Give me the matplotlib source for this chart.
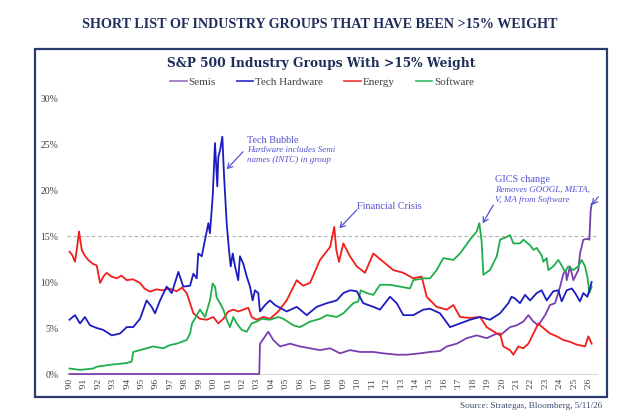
import matplotlib
matplotlib.use("Agg")
import matplotlib.pyplot as plt
from matplotlib.patches import Rectangle
from matplotlib.lines import Line2D

# ---------------- data ----------------
energy_x = [1990.0, 1990.2, 1990.38, 1990.55, 1990.66, 1990.85, 1991.05, 1991.30, 1991.6, 1991.89,
            1992.12, 1992.35, 1992.58, 1992.9, 1993.27, 1993.6, 1993.97, 1994.4, 1994.89, 1995.2,
            1995.58, 1996.0, 1996.48, 1996.9, 1997.43, 1997.8, 1998.13, 1998.36, 1998.59, 1999.05,
            1999.51, 1999.97, 2000.32, 2000.67, 2001.01, 2001.36, 2001.7, 2002.05, 2002.40, 2002.63,
            2002.98, 2003.44, 2003.90, 2004.48, 2005.06, 2005.76, 2006.2, 2006.68, 2007.37, 2008.07,
            2008.36, 2008.5, 2008.69, 2008.99, 2009.45, 2009.92, 2010.49, 2011.07, 2011.76, 2012.45,
            2013.15, 2013.84, 2014.42, 2014.77, 2015.46, 2016.16, 2016.62, 2017.08, 2017.77, 2018.47,
            2018.93, 2019.63, 2019.86, 2020.08, 2020.55, 2020.78, 2021.12, 2021.47, 2021.82, 2022.17,
            2022.51, 2022.86, 2023.32, 2023.79, 2024.25, 2024.71, 2025.17, 2025.75, 2025.98, 2026.21]
energy_y = [13.3, 12.9, 12.2, 14.0, 15.5, 13.5, 12.9, 12.4, 12.0, 11.8,
            9.9, 10.6, 11.0, 10.6, 10.4, 10.7, 10.2, 10.3, 9.9, 9.3,
            8.95, 9.2, 9.1, 9.3, 9.0, 9.4, 8.8, 7.7, 6.6, 6.0,
            5.9, 6.2, 5.5, 6.0, 6.8, 7.0, 6.8, 7.0, 7.2, 6.2,
            5.9, 6.2, 6.0, 6.8, 8.0, 10.2, 9.6, 9.9, 12.4, 13.8,
            16.0, 13.5, 12.2, 14.2, 12.8, 11.7, 11.0, 13.1, 12.2, 11.3,
            11.0, 10.4, 10.6, 8.4, 7.3, 7.0, 7.5, 6.2, 6.1, 6.2,
            5.1, 4.4, 4.4, 3.0, 2.6, 2.1, 3.0, 2.8, 3.3, 4.4,
            5.5, 5.0, 4.4, 4.1, 3.7, 3.5, 3.2, 3.0, 4.1, 3.3]

hw_x = [1990.0, 1990.38, 1990.73, 1991.07, 1991.42, 1991.89, 1992.34, 1992.93, 1993.50, 1993.97,
        1994.42, 1994.89, 1995.35, 1995.70, 1995.93, 1996.28, 1996.74, 1997.09, 1997.55, 1997.89,
        1998.36, 1998.59, 1998.82, 1998.93, 1999.17, 1999.40, 1999.63, 1999.74, 1999.93, 2000.09,
        2000.25, 2000.32, 2000.44, 2000.60, 2000.71, 2000.90, 2001.06, 2001.18, 2001.32, 2001.48,
        2001.70, 2001.82, 2002.05, 2002.29, 2002.52, 2002.70, 2002.86, 2003.09, 2003.21, 2003.56,
        2003.90, 2004.25, 2005.06, 2005.76, 2006.45, 2007.14, 2007.84, 2008.53, 2008.99, 2009.45,
        2009.92, 2010.37, 2011.07, 2011.53, 2012.23, 2012.69, 2013.15, 2013.84, 2014.54, 2015.00,
        2015.69, 2016.39, 2017.08, 2017.77, 2018.47, 2019.16, 2019.86, 2020.43, 2020.66, 2020.90,
        2021.24, 2021.59, 2021.94, 2022.40, 2022.74, 2023.09, 2023.55, 2023.90, 2024.13, 2024.48,
        2024.83, 2025.06, 2025.40, 2025.63, 2025.91, 2026.05, 2026.21]
hw_y = [5.9, 6.4, 5.5, 6.2, 5.3, 5.0, 4.8, 4.2, 4.4, 5.1,
        5.1, 6.0, 8.0, 7.3, 6.6, 8.0, 9.5, 8.8, 11.1, 9.5,
        9.6, 10.9, 10.4, 13.1, 12.8, 14.6, 16.4, 15.3, 19.3, 25.1,
        20.4, 23.6, 24.3, 25.8, 21.8, 16.4, 13.5, 11.7, 13.1, 11.7,
        10.2, 12.8, 12.0, 10.6, 9.5, 8.0, 9.1, 8.8, 6.8, 7.5,
        8.0, 7.5, 6.8, 7.3, 6.4, 7.3, 7.7, 8.0, 8.8, 9.1,
        9.0, 7.7, 7.3, 7.0, 8.4, 7.7, 6.4, 6.4, 7.0, 7.1,
        6.6, 5.1, 5.5, 5.9, 6.2, 5.9, 6.6, 7.7, 8.4, 8.2,
        7.7, 8.6, 8.0, 8.8, 9.1, 8.0, 9.0, 9.1, 7.9, 9.1,
        9.3, 8.8, 7.9, 8.8, 8.4, 9.1, 10.0]

sw_x = [1990.0, 1990.73, 1991.65, 1991.89, 1992.81, 1993.97, 1994.31, 1994.42, 1995.35, 1995.81,
        1996.50, 1996.97, 1997.43, 1998.13, 1998.36, 1998.50, 1999.05, 1999.40, 1999.74, 1999.93,
        2000.09, 2000.21, 2000.44, 2000.67, 2000.90, 2001.13, 2001.36, 2001.60, 2001.94, 2002.29,
        2002.63, 2002.98, 2003.33, 2003.90, 2004.48, 2004.83, 2005.52, 2005.98, 2006.68, 2007.37,
        2007.84, 2008.53, 2008.99, 2009.68, 2010.03, 2010.19, 2010.61, 2011.07, 2011.53, 2012.23,
        2012.92, 2013.61, 2013.84, 2014.54, 2015.00, 2015.46, 2015.92, 2016.62, 2017.08, 2017.77,
        2018.24, 2018.42, 2018.58, 2018.70, 2019.16, 2019.63, 2019.86, 2020.32, 2020.55, 2020.78,
        2021.24, 2021.47, 2021.94, 2022.17, 2022.40, 2022.74, 2022.86, 2023.09, 2023.20, 2023.55,
        2023.90, 2024.13, 2024.36, 2024.59, 2024.94, 2025.28, 2025.52, 2025.75, 2025.91, 2026.05,
        2026.21]
sw_y = [0.6, 0.45, 0.6, 0.8, 1.0, 1.2, 1.35, 2.4, 2.8, 3.0,
        2.8, 3.15, 3.3, 3.7, 4.4, 5.5, 7.0, 6.2, 8.0, 9.85,
        9.5, 8.3, 7.7, 7.0, 5.9, 5.1, 6.2, 5.5, 4.8, 4.6,
        5.5, 5.7, 6.0, 5.9, 6.2, 6.0, 5.3, 5.1, 5.7, 6.0,
        6.4, 6.2, 6.6, 7.7, 7.9, 9.1, 8.8, 8.6, 9.7, 9.7,
        9.5, 9.3, 10.2, 10.4, 10.4, 11.3, 12.6, 12.4, 13.1, 14.6,
        15.5, 16.4, 14.4, 10.8, 11.3, 12.8, 14.6, 14.9, 15.1, 14.2,
        14.2, 14.6, 14.0, 13.5, 13.7, 12.9, 12.2, 12.6, 11.3, 11.7,
        12.4, 11.8, 11.1, 11.7, 11.3, 11.7, 12.4, 11.7, 10.6, 8.8,
        9.5]

semis_x = [1990.0, 2003.16, 2003.21, 2003.79, 2004.13, 2004.60, 2005.29, 2005.98, 2006.68, 2007.37,
           2008.07, 2008.76, 2009.45, 2010.15, 2011.07, 2011.76, 2012.69, 2013.38, 2014.31, 2015.00,
           2015.69, 2016.16, 2016.85, 2017.55, 2018.24, 2018.93, 2019.63, 2019.86, 2020.55, 2021.01,
           2021.47, 2021.82, 2022.17, 2022.51, 2022.98, 2023.32, 2023.67, 2024.02, 2024.25, 2024.41,
           2024.48, 2024.71, 2024.94, 2025.28, 2025.40, 2025.63, 2025.91, 2026.05, 2026.14, 2026.21]
semis_y = [0.0, 0.0, 3.3, 4.6, 3.7, 3.0, 3.3, 3.0, 2.8, 2.6,
           2.8, 2.25, 2.6, 2.4, 2.4, 2.25, 2.1, 2.1, 2.25, 2.4,
           2.5, 3.0, 3.3, 3.9, 4.2, 3.9, 4.4, 4.2, 5.1, 5.3,
           5.7, 6.4, 5.7, 5.3, 6.4, 7.5, 7.7, 9.5, 10.9, 11.3,
           10.2, 11.7, 10.2, 11.3, 13.1, 14.6, 14.7, 14.6, 17.8, 18.5]

series_names = ["Semis", "Tech Hardware", "Energy", "Software"]
year_ticks = list(range(1990, 2027))
year_labels = ["'%02d" % (y % 100) for y in year_ticks]
y_ticks = [0, 5, 10, 15, 20, 25, 30]
y_labels = ["0%", "5%", "10%", "15%", "20%", "25%", "30%"]

# ---------------- figure ----------------
W, H = 642, 420
fig = plt.figure(figsize=(W / 100, H / 100), dpi=100)
fig.patch.set_facecolor("white")

def fx(px):
    return px / W

def fy(py):
    return 1 - py / H

x0, x1 = 1989.8, 2026.6
y0, y1 = -0.3, 30.0
ax_left, ax_right = 66.6, 597.3
ax_bottom, ax_top = 376.8, 98.0
ax = fig.add_axes([fx(ax_left), fy(ax_bottom), fx(ax_right - ax_left), (ax_bottom - ax_top) / H])
ax.set_xlim(x0, x1)
ax.set_ylim(y0, y1)
ax.set_facecolor("none")

serif = "Liberation Serif"
navy = "#1f2d5a"
ann = "#5454d4"

c_semis = "#7a3fae"
c_hw = "#1c1cc0"
c_en = "#f21d1d"
c_sw = "#1fae4a"

ax.axhline(15, color="#b0b0b0", lw=0.8, ls=(0, (3, 2.5)), zorder=1)

ax.plot(semis_x, semis_y, color=c_semis, lw=1.3, zorder=3)
ax.plot(hw_x, hw_y, color=c_hw, lw=1.3, zorder=4)
ax.plot(energy_x, energy_y, color=c_en, lw=1.3, zorder=3)
ax.plot(sw_x, sw_y, color=c_sw, lw=1.3, zorder=3)

for s in ["top", "right", "left"]:
    ax.spines[s].set_visible(False)
ax.spines["bottom"].set_color("#d9d9d9")
ax.spines["bottom"].set_position(("data", 0))
ax.spines["bottom"].set_linewidth(0.8)

ax.set_yticks(y_ticks)
ax.set_yticklabels(y_labels, fontfamily=serif, fontsize=7, color="#404040")
ax.set_xticks(year_ticks)
ax.set_xticklabels(year_labels, rotation=90, fontfamily=serif, fontsize=6.8, color="#404040")
ax.tick_params(axis="both", length=0)
ax.tick_params(axis="y", pad=6)
ax.tick_params(axis="x", pad=3)

# annotations
it = dict(fontfamily=serif, fontsize=6.5, style="italic", color=ann, va="center", ha="left")
hd = dict(fontfamily=serif, fontsize=7.4, color=ann, va="center", ha="left")
arrow = dict(arrowstyle="->,head_length=0.35,head_width=0.2", color=ann, lw=0.9, shrinkA=0, shrinkB=0)

ax.text(2002.29, 25.43, "Tech Bubble", **hd)
ax.text(2002.29, 24.35, "Hardware includes Semi", **it)
ax.text(2002.29, 23.26, "names (INTC) in group", **it)
ax.annotate("", xy=(2000.90, 22.25), xytext=(2002.03, 24.16), arrowprops=arrow)

ax.text(2009.92, 18.26, "Financial Crisis", **hd)
ax.annotate("", xy=(2008.71, 15.84), xytext=(2009.92, 17.83), arrowprops=arrow)

ax.text(2019.51, 21.16, "GICS change", **hd)
ax.text(2019.51, 20.0, "Removes GOOGL, META,", **it)
ax.text(2019.51, 18.91, "V, MA from Software", **it)
ax.annotate("", xy=(2018.65, 16.38), xytext=(2019.39, 18.37), arrowprops=arrow)

ax.annotate("", xy=(2026.21, 18.37), xytext=(2026.67, 19.27), arrowprops=arrow, annotation_clip=False)

# titles
fig.text(fx(320), fy(25), "SHORT LIST OF INDUSTRY GROUPS THAT HAVE BEEN >15% WEIGHT",
         fontfamily=serif, fontweight="bold", fontsize=10.2, color=navy, ha="center", va="center")
fig.text(fx(321), fy(63), "S&P 500 Industry Groups With >15% Weight",
         fontfamily="DejaVu Serif", fontweight="bold", fontsize=8.8, color=navy, ha="center", va="center")

handles = [Line2D([], [], color=c, lw=1.3) for c in ["#a07ac8", "#3a3ad0", "#f04848", "#48c070"]]
fig.legend(handles, series_names, loc="center", bbox_to_anchor=(fx(322), fy(82)), ncol=4, frameon=False,
           handlelength=1.5, handletextpad=0.15, columnspacing=1.9,
           prop={"family": serif, "size": 8}, labelcolor="#404040")

fig.text(fx(602), fy(406), "Source: Strategas, Bloomberg, 5/11/26", fontfamily=serif, fontsize=6.6,
         color="#3b4a6b", ha="right", va="center")

fig.patches.append(Rectangle((fx(35), fy(397)), fx(607 - 35), (397 - 49) / H, transform=fig.transFigure,
                             fill=False, edgecolor="#2a3b6b", lw=1.6, zorder=0))

fig.savefig("out.png", dpi=100, facecolor="white")
